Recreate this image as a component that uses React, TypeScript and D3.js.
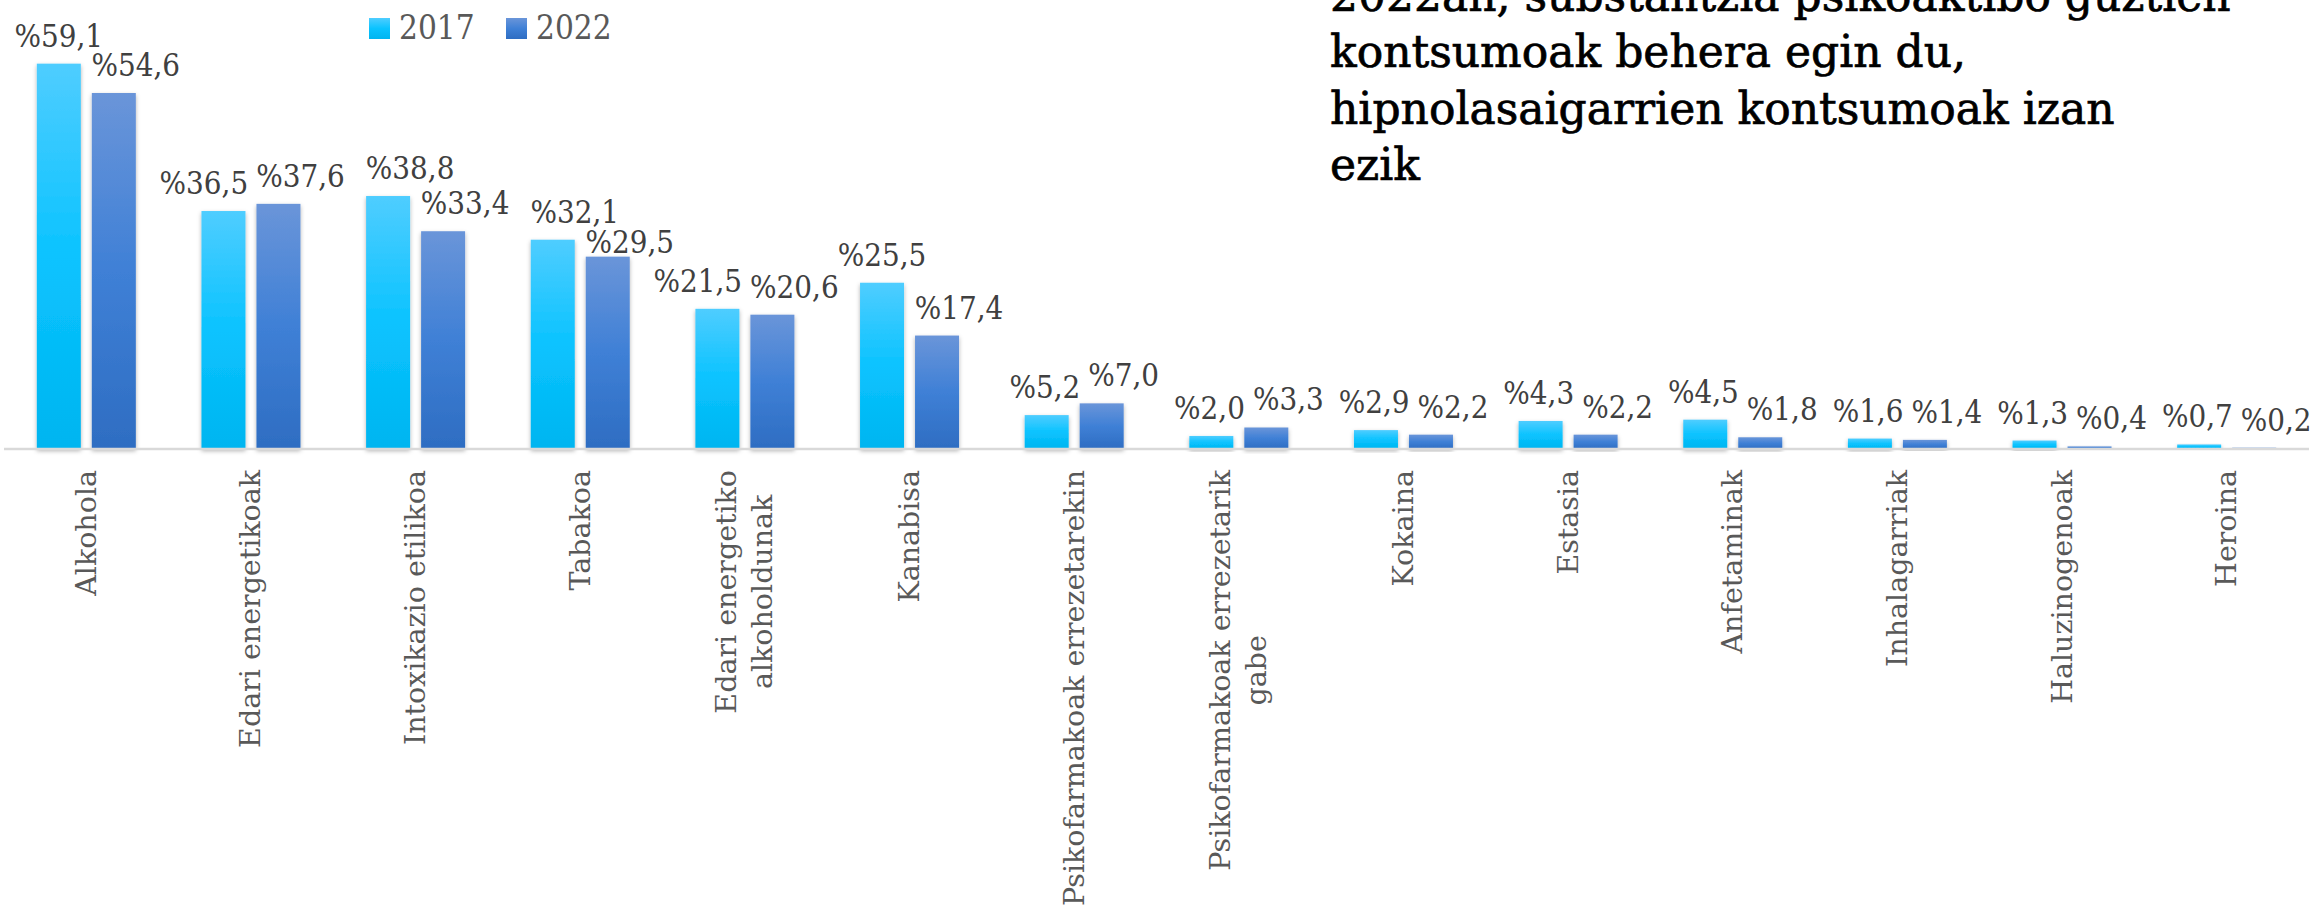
import React, { useMemo } from "react";
import * as d3 from "d3";

const categories = [
  "Alkohola",
  "Edari energetikoak",
  "Intoxikazio etilikoa",
  "Tabakoa",
  "Edari energetiko\nalkoholdunak",
  "Kanabisa",
  "Psikofarmakoak errezetarekin",
  "Psikofarmakoak errezetarik\ngabe",
  "Kokaina",
  "Estasia",
  "Anfetaminak",
  "Inhalagarriak",
  "Haluzinogenoak",
  "Heroina",
];
const seriesNames = ["2017", "2022"];
const values2017 = [59.1, 36.5, 38.8, 32.1, 21.5, 25.5, 5.2, 2.0, 2.9, 4.3, 4.5, 1.6, 1.3, 0.7];
const values2022 = [54.6, 37.6, 33.4, 29.5, 20.6, 17.4, 7.0, 3.3, 2.2, 2.2, 1.8, 1.4, 0.4, 0.2];
const titleLines = [
  "2022an, substantzia psikoaktibo guztien",
  "kontsumoak behera egin du,",
  "hipnolasaigarrien kontsumoak izan",
  "ezik",
];

const W = 2316;
const H = 916;
const FONT = "'DejaVu Serif', serif";
const FONT_COND = "'DejaVu Serif Condensed', 'DejaVu Serif', serif";

let _ctx: CanvasRenderingContext2D | null = null;
function measure(text: string, font: string): number {
  if (!_ctx) {
    const c = document.createElement("canvas");
    _ctx = c.getContext("2d");
  }
  if (!_ctx) return text.length * 16;
  _ctx.font = font;
  return _ctx.measureText(text).width;
}

const fmt = (v: number) => "%" + v.toFixed(1).replace(".", ",");

export default function App() {
  const x0 = d3.scaleBand<string>().domain(categories).range([4, 2309]).paddingInner(0).paddingOuter(0);
  const x1 = d3.scaleBand<string>().domain(seriesNames).range([0, 99]).paddingInner(0.2).paddingOuter(0);
  const y = d3.scaleLinear().domain([0, 65]).range([449, 449 - 65 * 6.52]);
  const groupOffset = (x0.bandwidth() - 99) / 2;
  const seriesValues = [values2017, values2022];
  const gradIds = ["g2017", "g2022"];

  const labelSize = 28.5;
  const labelFont = `${labelSize}px ${FONT}`;
  const valueSize = 31;
  const valueFont = `condensed ${valueSize}px 'DejaVu Serif Condensed', 'DejaVu Serif'`;

  const catLabels = useMemo(
    () =>
      categories.map((c) => {
        const lines = c.split("\n");
        const maxW = Math.max(...lines.map((l) => measure(l, labelFont)));
        return { c, lines, maxW };
      }),
    []
  );

  // data label placement with simple collision avoidance
  const valueLabels = useMemo(() => {
    const out: { key: string; x: number; y: number; w: number; text: string }[] = [];
    const textH = 26;
    let prev: { x: number; y: number; w: number } | null = null;
    categories.forEach((c, ci) => {
      const centers = seriesNames.map(
        (s) => (x0(c) ?? 0) + groupOffset + (x1(s) ?? 0) + x1.bandwidth() / 2
      );
      const texts = seriesNames.map((_, si) => fmt(seriesValues[si][ci]));
      const widths = texts.map((t) => measure(t, valueFont));
      const ys = seriesNames.map((_, si) => y(seriesValues[si][ci]) - 17);
      const x2022 = centers[1] + 22;
      let x2017 = centers[0];
      let pushedRight = false;
      if (prev && Math.abs(prev.y - ys[0]) < textH) {
        const prevRight = prev.x + prev.w / 2;
        const left = x2017 - widths[0] / 2;
        if (left < prevRight + 4) {
          x2017 += Math.max(prevRight + 8 - left, 22);
          pushedRight = true;
        }
      }
      if (!pushedRight && Math.abs(ys[0] - ys[1]) < textH) {
        const left2022 = x2022 - widths[1] / 2;
        const right2017 = x2017 + widths[0] / 2;
        const need = right2017 - (left2022 - 8);
        if (need > 0) x2017 -= need;
      } else if (pushedRight && ys[1] - ys[0] < 30 && ys[1] >= ys[0]) {
        ys[1] = ys[0] + 30;
      }
      out.push({ key: c + "a", x: x2017, y: ys[0], w: widths[0], text: texts[0] });
      out.push({ key: c + "b", x: x2022, y: ys[1], w: widths[1], text: texts[1] });
      prev = { x: x2022, y: ys[1], w: widths[1] };
    });
    return out;
  }, []);

  return (
    <svg
      width={W}
      height={H}
      style={{ position: "absolute", left: 0, top: 0, background: "#fff" }}
      xmlns="http://www.w3.org/2000/svg"
    >
      <defs>
        <linearGradient id="g2017" x1="0" y1="0" x2="0" y2="1">
          <stop offset="0%" stopColor="#4fcdff" />
          <stop offset="50%" stopColor="#0ac3ff" />
          <stop offset="100%" stopColor="#00b5f0" />
        </linearGradient>
        <linearGradient id="g2022" x1="0" y1="0" x2="0" y2="1">
          <stop offset="0%" stopColor="#6a95d9" />
          <stop offset="50%" stopColor="#3f80d6" />
          <stop offset="100%" stopColor="#2e6dc2" />
        </linearGradient>
        <filter id="sh" x="-20%" y="-20%" width="140%" height="140%">
          <feDropShadow dx="0" dy="2" stdDeviation="2" floodColor="#000" floodOpacity="0.3" />
        </filter>
      </defs>

      {/* title */}
      <g fontFamily={FONT} fontSize={44} fill="#000" stroke="#000" strokeWidth={0.7}>
        {titleLines.map((t, i) => (
          <text key={i} x={1330} y={11 + i * 56.3}>
            {t}
          </text>
        ))}
      </g>

      {/* legend */}
      <g fontFamily={FONT_COND} fontStretch="condensed" fontSize={33} fill="#595959">
        {seriesNames.map((s, i) => {
          const lx = 369 + i * 137;
          return (
            <g key={s}>
              <rect x={lx} y={18} width={21} height={21} fill={`url(#${gradIds[i]})`} />
              <text x={lx + 30} y={39}>
                {s}
              </text>
            </g>
          );
        })}
      </g>

      {/* bars */}
      {categories.map((c, ci) => (
        <g key={c} transform={`translate(${(x0(c) ?? 0) + groupOffset},0)`}>
          {seriesNames.map((s, si) => {
            const v = seriesValues[si][ci];
            const bx = x1(s) ?? 0;
            return (
              <rect
                key={s}
                x={bx}
                y={y(v)}
                width={x1.bandwidth()}
                height={y(0) - y(v)}
                fill={`url(#${gradIds[si]})`}
                filter="url(#sh)"
              />
            );
          })}
        </g>
      ))}

      {/* axis line */}
      <line x1={4} x2={2309} y1={449} y2={449} stroke="#d9d9d9" strokeWidth={2.5} />

      {/* data labels */}
      <g fontFamily={FONT_COND} fontStretch="condensed" fontSize={valueSize} fill="#404040" textAnchor="middle">
        {valueLabels.map((d) => (
          <text key={d.key} x={d.x} y={d.y}>
            {d.text}
          </text>
        ))}
      </g>

      {/* category labels */}
      <g fontFamily={FONT} fontSize={labelSize} fill="#595959">
        {catLabels.map((cl, ci) => {
          const center = (x0(cl.c) ?? 0) + x0.bandwidth() / 2;
          const cy = 470 + cl.maxW / 2;
          const n = cl.lines.length;
          return cl.lines.map((l, li) => {
            const lx = center + (li - (n - 1) / 2) * 36;
            return (
              <text
                key={ci + "-" + li}
                x={lx}
                y={cy}
                textAnchor="middle"
                dominantBaseline="central"
                transform={`rotate(-90 ${lx} ${cy})`}
              >
                {l}
              </text>
            );
          });
        })}
      </g>
    </svg>
  );
}
